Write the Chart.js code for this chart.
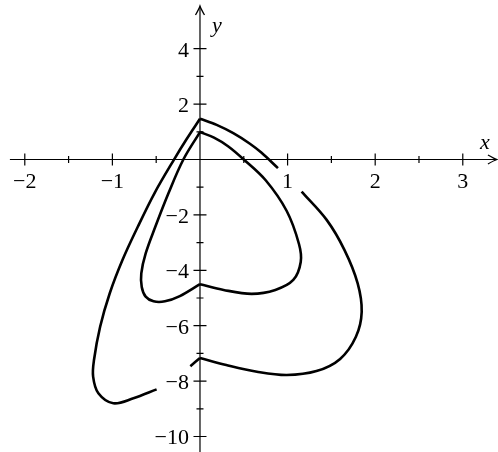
<!DOCTYPE html>
<html>
<head>
<meta charset="utf-8">
<script src="https://cdn.jsdelivr.net/npm/chart.js@4/dist/chart.umd.min.js"></script>
<style>
  html, body { margin: 0; padding: 0; background: #fff; }
  #wrap { width: 498px; height: 452px; }
</style>
</head>
<body>
<div id="wrap"><canvas id="c" width="498" height="452"></canvas></div>
<script>
// ---- Data ----
// Outer curve, split at cusps and gaps
const outerTopRightX = [0, 0.19, 0.38, 0.57, 0.70, 0.89];
const outerTopRightY = [1.47, 1.25, 0.95, 0.57, 0.25, -0.31];

const outerLeftX = [0, -0.152, -0.30, -0.52, -0.71, -0.885, -1.03, -1.14, -1.21, -1.22, -1.16, -0.99, -0.76, -0.495];
const outerLeftY = [1.47, 0.74, -0.02, -1.22, -2.43, -3.63, -4.83, -6.04, -7.24, -7.84, -8.44, -8.80, -8.62, -8.30];

const outerStubX = [-0.11, 0];
const outerStubY = [-7.46, -7.17];

const outerRightX = [0, 0.30, 0.65, 0.99, 1.33, 1.60, 1.78, 1.846, 1.80, 1.65, 1.446, 1.16];
const outerRightY = [-7.17, -7.42, -7.66, -7.78, -7.64, -7.20, -6.40, -5.50, -4.47, -3.27, -2.18, -1.16];

// Inner curve
const innerRightX = [0, 0.16, 0.32, 0.50, 0.75, 0.99, 1.13, 1.15, 1.065, 0.86, 0.59, 0.27, 0];
const innerRightY = [0.99, 0.79, 0.48, 0, -0.75, -1.86, -3.05, -3.70, -4.35, -4.71, -4.85, -4.71, -4.50];

const innerLeftX = [0, -0.23, -0.40, -0.53, -0.62, -0.665, -0.67, -0.62, -0.51, -0.36, -0.19, 0];
const innerLeftY = [-4.50, -4.93, -5.12, -5.12, -4.95, -4.60, -4.11, -3.39, -2.43, -1.22, 0, 0.99];

// Tick labels / positions
const xMajorTicks = [-2, -1, 1, 2, 3];
const xMinorTicks = [-1.5, -0.5, 0.5, 1.5, 2.5];
const yMajorTicks = [-10, -8, -6, -4, -2, 2, 4];
const yMinorTicks = [-9, -7, -5, -3, -1, 1, 3];

// Axis ranges
const X_MIN = -2.283, X_MAX = 3.402;
const Y_MIN = -10.560, Y_MAX = 5.758;
const X_AXIS_FROM = -2.17, X_AXIS_TO = 3.39;
const Y_AXIS_FROM = -10.56, Y_AXIS_TO = 5.54;

function pts(xs, ys) { return xs.map((x, i) => ({ x: x, y: ys[i] })); }

const segments = [
  [outerTopRightX, outerTopRightY],
  [outerLeftX, outerLeftY],
  [outerStubX, outerStubY],
  [outerRightX, outerRightY],
  [innerRightX, innerRightY],
  [innerLeftX, innerLeftY]
];

const datasets = segments.map(s => ({
  data: pts(s[0], s[1]),
  showLine: true,
  borderColor: '#000',
  borderWidth: 2.6,
  pointRadius: 0,
  tension: 0.35,
  fill: false,
  borderCapStyle: 'butt',
  borderJoinStyle: 'miter'
}));

const fmt = v => (v < 0 ? '\u2212' + Math.abs(v) : String(v));

const axesPlugin = {
  id: 'axesPlugin',
  beforeDatasetsDraw(chart) {
    const ctx = chart.ctx;
    const xs = chart.scales.x, ys = chart.scales.y;
    const X = v => xs.getPixelForValue(v);
    const Y = v => ys.getPixelForValue(v);
    const ox = X(0), oy = Y(0);
    ctx.save();
    ctx.strokeStyle = '#000';
    ctx.fillStyle = '#000';
    ctx.lineWidth = 1.2;
    // axis lines
    ctx.beginPath();
    ctx.moveTo(X(X_AXIS_FROM), oy);
    ctx.lineTo(X(X_AXIS_TO) - 1, oy);
    ctx.moveTo(ox, Y(Y_AXIS_FROM));
    ctx.lineTo(ox, Y(Y_AXIS_TO) + 1);
    ctx.stroke();
    // ticks
    ctx.beginPath();
    xMajorTicks.forEach(v => { ctx.moveTo(X(v), oy - 6); ctx.lineTo(X(v), oy + 6); });
    xMinorTicks.forEach(v => { ctx.moveTo(X(v), oy - 3.5); ctx.lineTo(X(v), oy + 3.5); });
    yMajorTicks.forEach(v => { ctx.moveTo(ox - 6.5, Y(v)); ctx.lineTo(ox + 6.5, Y(v)); });
    yMinorTicks.forEach(v => { ctx.moveTo(ox - 3.5, Y(v)); ctx.lineTo(ox + 3.5, Y(v)); });
    ctx.stroke();
    // arrow heads
    const tx = X(X_AXIS_TO), ty = Y(Y_AXIS_TO);
    ctx.lineWidth = 1.3;
    ctx.beginPath();
    ctx.moveTo(tx - 9, oy - 4.5);
    ctx.quadraticCurveTo(tx - 3, oy - 1, tx, oy);
    ctx.quadraticCurveTo(tx - 3, oy + 1, tx - 9, oy + 4.5);
    ctx.stroke();
    ctx.beginPath();
    ctx.moveTo(ox - 4.5, ty + 9);
    ctx.quadraticCurveTo(ox - 1, ty + 3, ox, ty);
    ctx.quadraticCurveTo(ox + 1, ty + 3, ox + 4.5, ty + 9);
    ctx.stroke();
    // labels
    ctx.font = '22px "Liberation Serif", "DejaVu Serif", serif';
    ctx.textAlign = 'center';
    ctx.textBaseline = 'alphabetic';
    xMajorTicks.forEach(v => ctx.fillText(fmt(v), X(v), oy + 29));
    ctx.textAlign = 'right';
    yMajorTicks.forEach(v => ctx.fillText(fmt(v), ox - 11, Y(v) + 8));
    ctx.font = 'italic 22px "Liberation Serif", "DejaVu Serif", serif';
    ctx.textAlign = 'center';
    ctx.fillText('x', 485, oy - 10);
    ctx.fillText('y', ox + 17, 32);
    ctx.restore();
  }
};

new Chart(document.getElementById('c'), {
  type: 'scatter',
  data: { datasets: datasets },
  options: {
    responsive: false,
    animation: false,
    layout: { padding: 0 },
    plugins: { legend: { display: false }, tooltip: { enabled: false } },
    scales: {
      x: { type: 'linear', min: X_MIN, max: X_MAX, display: false },
      y: { type: 'linear', min: Y_MIN, max: Y_MAX, display: false }
    }
  },
  plugins: [axesPlugin]
});
</script>
</body>
</html>
